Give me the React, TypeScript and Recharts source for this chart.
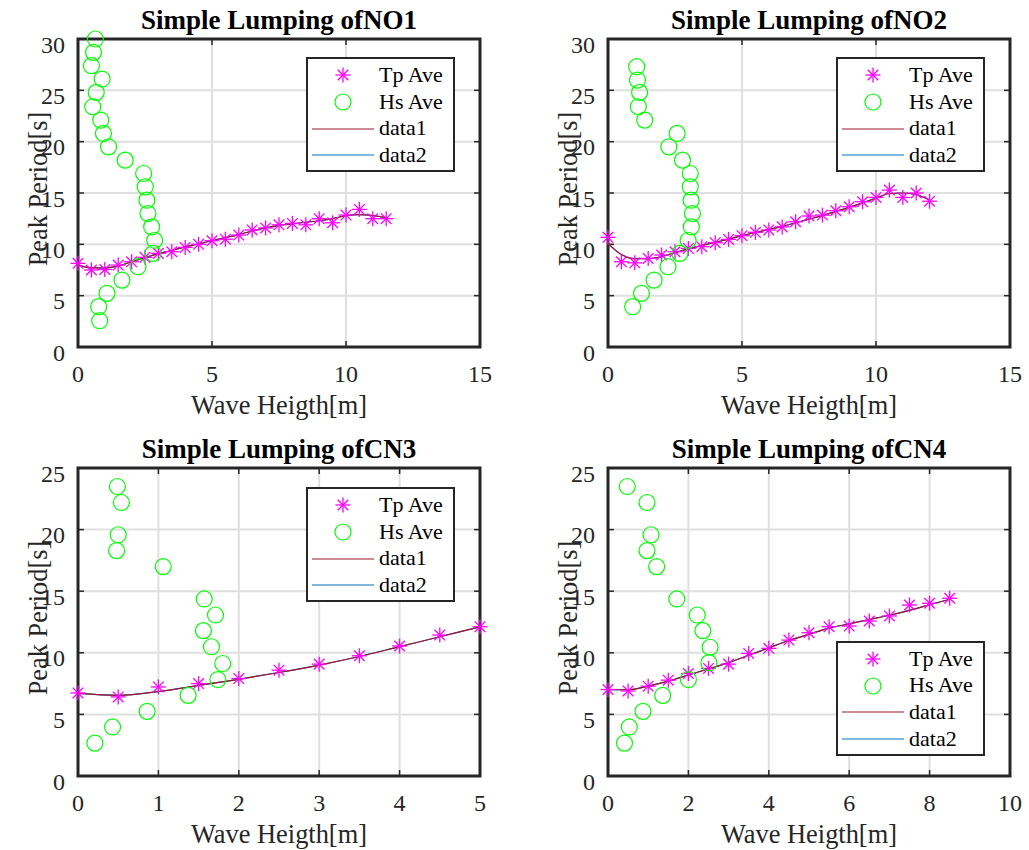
import React from 'react';
import { ComposedChart, Scatter, Line, XAxis, YAxis, CartesianGrid, Legend, ReferenceArea, ReferenceLine } from 'recharts';

// NO1
const NO1_X = [0, 0.5, 1, 1.5, 2, 2.5, 3, 3.5, 4, 4.5, 5, 5.5, 6, 6.5, 7, 7.5, 8, 8.5, 9, 9.5, 10, 10.5, 11, 11.5];
const NO1_TP = [8.15, 7.5, 7.55, 7.98, 8.3, 8.73, 9.12, 9.28, 9.7, 10.0, 10.35, 10.5, 10.9, 11.4, 11.6, 11.9, 12.04, 11.9, 12.5, 12.1, 12.85, 13.4, 12.5, 12.5];
const NO1_FIT = [8.0, 7.7, 7.7, 7.9, 8.3, 8.7, 9.1, 9.4, 9.75, 10.05, 10.35, 10.65, 10.95, 11.3, 11.6, 11.85, 12.0, 12.15, 12.3, 12.5, 12.8, 12.9, 12.8, 12.6];
const NO1_HS_X = [0.81, 0.77, 1.08, 1.64, 2.24, 2.8, 2.86, 2.75, 2.61, 2.57, 2.51, 2.45, 1.76, 1.14, 0.95, 0.85, 0.55, 0.68, 0.9, 0.5, 0.58, 0.65];
const NO1_HS_Y = [2.56, 3.93, 5.23, 6.52, 7.82, 9.12, 10.4, 11.7, 13.0, 14.3, 15.6, 16.9, 18.2, 19.5, 20.8, 22.1, 23.4, 24.8, 26.1, 27.4, 28.7, 30.0];

// NO2
const NO2_X = [0, 0.5, 1, 1.5, 2, 2.5, 3, 3.5, 4, 4.5, 5, 5.5, 6, 6.5, 7, 7.5, 8, 8.5, 9, 9.5, 10, 10.5, 11, 11.5, 12];
const NO2_TP = [10.68, 8.3, 8.2, 8.63, 8.96, 9.28, 9.6, 9.77, 10.16, 10.48, 10.84, 11.17, 11.4, 11.7, 12.2, 12.76, 12.85, 13.27, 13.66, 14.15, 14.57, 15.29, 14.57, 15.0, 14.2];
const NO2_FIT = [10.1, 9.0, 8.6, 8.6, 8.8, 9.2, 9.55, 9.9, 10.2, 10.5, 10.85, 11.15, 11.45, 11.75, 12.1, 12.45, 12.8, 13.2, 13.6, 14.05, 14.5, 14.95, 15.0, 14.85, 14.3];
const NO2_HS_X = [0.92, 1.25, 1.72, 2.24, 2.68, 2.99, 3.11, 3.15, 3.1, 3.07, 3.07, 2.78, 2.27, 2.58, 1.37, 1.13, 1.18, 1.1, 1.07];
const NO2_HS_Y = [3.93, 5.23, 6.52, 7.82, 9.12, 10.4, 11.7, 13.0, 14.3, 15.6, 16.9, 18.2, 19.5, 20.8, 22.1, 23.4, 24.8, 26.0, 27.3];

// CN3
const CN3_X = [0, 0.5, 1, 1.5, 2, 2.5, 3, 3.5, 4, 4.5, 5];
const CN3_TP = [6.74, 6.42, 7.23, 7.5, 7.91, 8.59, 9.08, 9.76, 10.55, 11.44, 12.12];
const CN3_FIT = [6.7, 6.55, 6.85, 7.35, 7.85, 8.4, 9.0, 9.7, 10.5, 11.3, 12.1];
const CN3_HS_X = [0.21, 0.43, 0.86, 1.37, 1.74, 1.8, 1.66, 1.56, 1.71, 1.57, 1.06, 0.48, 0.5, 0.54, 0.49];
const CN3_HS_Y = [2.67, 3.98, 5.25, 6.55, 7.83, 9.13, 10.49, 11.8, 13.07, 14.37, 17.0, 18.3, 19.58, 22.2, 23.5];

// CN4
const CN4_X = [0, 0.5, 1, 1.5, 2, 2.5, 3, 3.5, 4, 4.5, 5, 5.5, 6, 6.5, 7, 7.5, 8, 8.5];
const CN4_TP = [7.02, 6.9, 7.29, 7.78, 8.32, 8.73, 9.08, 9.95, 10.36, 11.03, 11.63, 12.12, 12.17, 12.58, 12.99, 13.88, 14.02, 14.43];
const CN4_FIT = [7.0, 7.0, 7.3, 7.7, 8.2, 8.7, 9.2, 9.8, 10.4, 11.0, 11.5, 12.0, 12.35, 12.7, 13.05, 13.45, 13.9, 14.35];
const CN4_HS_X = [0.41, 0.53, 0.87, 1.36, 2.0, 2.51, 2.54, 2.36, 2.22, 1.71, 1.21, 0.97, 1.07, 0.97, 0.48];
const CN4_HS_Y = [2.67, 3.98, 5.25, 6.55, 7.83, 9.2, 10.45, 11.8, 13.07, 14.37, 17.0, 18.3, 19.58, 22.2, 23.5];

const TICKS_15 = [0, 5, 10, 15];
const TICKS_5 = [0, 1, 2, 3, 4, 5];
const TICKS_10 = [0, 2, 4, 6, 8, 10];
const Y_TICKS_30 = [0, 5, 10, 15, 20, 25, 30];
const Y_TICKS_25 = [0, 5, 10, 15, 20, 25];
const LEGEND_NAMES = ['Tp Ave', 'Hs Ave', 'data1', 'data2'];

const FONT = '"Liberation Serif", "Times New Roman", serif';
const AX = '#262626';
const MAGENTA = '#FF00FF';
const GREEN = '#00FF00';
const RED = '#A2142F';
const BLUE = '#0072BD';

const PLOT_W = 402;
const PLOT_H = 308;
const TICK_PX = 6;

const toPts = (xs: number[], ys: number[]) => xs.map((x, i) => ({ x, y: ys[i] }));

function starPath(cx: number, cy: number) {
  const r = 7.5, d = 5.3;
  return (
    <g stroke={MAGENTA} strokeWidth={1.3}>
      <line x1={cx - r} y1={cy} x2={cx + r} y2={cy} />
      <line x1={cx} y1={cy - r} x2={cx} y2={cy + r} />
      <line x1={cx - d} y1={cy - d} x2={cx + d} y2={cy + d} />
      <line x1={cx - d} y1={cy + d} x2={cx + d} y2={cy - d} />
    </g>
  );
}

const Star = (p: any) => (p.cx == null ? <g /> : starPath(p.cx, p.cy));
const Ring = (p: any) =>
  p.cx == null ? <g /> : <circle cx={p.cx} cy={p.cy} r={8} fill="none" stroke={GREEN} strokeWidth={1.2} />;

const LegendBox = () => (
  <div
    className="mat-legend"
    style={{
      width: 149,
      height: 115,
      boxSizing: 'border-box',
      border: `2.5px solid ${AX}`,
      background: '#fff',
      paddingTop: 3,
      fontSize: 22,
      color: '#000',
    }}
  >
    {LEGEND_NAMES.map((name, i) => (
      <div key={name} style={{ display: 'flex', alignItems: 'center', height: 26.7, lineHeight: '26.7px' }}>
        <svg width={71} height={26} style={{ flex: 'none' }}>
          {i === 0 && starPath(35, 13)}
          {i === 1 && <circle cx={35} cy={13} r={8} fill="none" stroke={GREEN} strokeWidth={1.2} />}
          {i === 2 && <line x1={4} y1={13} x2={66} y2={13} stroke={RED} strokeWidth={1.2} />}
          {i === 3 && <line x1={4} y1={13} x2={66} y2={13} stroke={BLUE} strokeWidth={1.2} />}
        </svg>
        <span>{name}</span>
      </div>
    ))}
  </div>
);

type PanelProps = {
  left: number;
  top: number;
  title: string;
  xMax: number;
  xTicks: number[];
  yMax: number;
  yTicks: number[];
  tpX: number[];
  tpY: number[];
  fitY: number[];
  hsX: number[];
  hsY: number[];
  legendTop: number;
};

const tickFont = { fill: AX, fontSize: 24, fontFamily: FONT };

function Panel(props: PanelProps) {
  const { left, top, title, xMax, xTicks, yMax, yTicks, tpX, tpY, fitY, hsX, hsY, legendTop } = props;
  const tp = toPts(tpX, tpY);
  const fit = toPts(tpX, fitY);
  const hs = toPts(hsX, hsY);
  // inward tick length in data units
  const xLen = (xMax * TICK_PX) / PLOT_W;
  const yLen = (yMax * TICK_PX) / PLOT_H;
  const innerX = xTicks.slice(1, -1);
  const innerY = yTicks.slice(1, -1);
  const tickLine = { stroke: AX, strokeWidth: 1.5 };
  return (
    <div style={{ position: 'absolute', left, top }}>
      <ComposedChart width={498} height={420} margin={{ top: 39, right: 18, bottom: 13, left: 0 }}>
        <CartesianGrid xAxisId="b" yAxisId="l" stroke="#dfdfdf" strokeWidth={2} />
        <XAxis
          xAxisId="b"
          dataKey="x"
          type="number"
          domain={[0, xMax]}
          ticks={xTicks}
          interval={0}
          height={60}
          axisLine={false}
          tickLine={false}
          tickSize={6}
          tickMargin={11.5}
          tick={tickFont}
          label={({ viewBox }: any) => (
            <text
              x={viewBox.x + viewBox.width / 2}
              y={viewBox.y + 67}
              textAnchor="middle"
              fontFamily={FONT}
              fontSize={26.4}
              fill={AX}
            >
              Wave Heigth[m]
            </text>
          )}
        />
        <YAxis
          yAxisId="l"
          type="number"
          domain={[0, yMax]}
          ticks={yTicks}
          interval={0}
          width={78}
          axisLine={false}
          tickLine={false}
          tickSize={6}
          tickMargin={7}
          tick={{ ...tickFont, dy: 5 }}
          label={({ viewBox }: any) => {
            const cx = viewBox.x + 46.5;
            const cy = viewBox.y + viewBox.height / 2 - 4;
            return (
              <text
                x={cx}
                y={cy}
                transform={`rotate(-90, ${cx}, ${cy})`}
                textAnchor="middle"
                fontFamily={FONT}
                fontSize={26.4}
                fill={AX}
              >
                Peak Period[s]
              </text>
            );
          }}
        />
        {innerX.map((t) => (
          <ReferenceLine key={`xb${t}`} xAxisId="b" yAxisId="l" segment={[{ x: t, y: 0 }, { x: t, y: yLen }]} {...tickLine} ifOverflow="visible" />
        ))}
        {innerX.map((t) => (
          <ReferenceLine key={`xt${t}`} xAxisId="b" yAxisId="l" segment={[{ x: t, y: yMax - yLen }, { x: t, y: yMax }]} {...tickLine} ifOverflow="visible" />
        ))}
        {innerY.map((t) => (
          <ReferenceLine key={`yl${t}`} xAxisId="b" yAxisId="l" segment={[{ x: 0, y: t }, { x: xLen, y: t }]} {...tickLine} ifOverflow="visible" />
        ))}
        {innerY.map((t) => (
          <ReferenceLine key={`yr${t}`} xAxisId="b" yAxisId="l" segment={[{ x: xMax - xLen, y: t }, { x: xMax, y: t }]} {...tickLine} ifOverflow="visible" />
        ))}
        <ReferenceArea
          xAxisId="b"
          yAxisId="l"
          x1={0}
          x2={xMax}
          y1={0}
          y2={yMax}
          fill="none"
          fillOpacity={0}
          stroke={AX}
          strokeWidth={3}
          ifOverflow="visible"
          label={({ viewBox }: any) => (
            <text
              x={viewBox.x + viewBox.width / 2}
              y={viewBox.y - 10}
              textAnchor="middle"
              fontFamily={FONT}
              fontWeight="bold"
              fontSize={27}
              fill="#000"
            >
              {title}
            </text>
          )}
        />
        <Scatter xAxisId="b" yAxisId="l" name="Tp Ave" data={tp} dataKey="y" shape={Star} isAnimationActive={false} />
        <Scatter xAxisId="b" yAxisId="l" name="Hs Ave" data={hs} dataKey="y" shape={Ring} isAnimationActive={false} />
        <Line xAxisId="b" yAxisId="l" name="data2" data={fit} dataKey="y" type="monotone" stroke={BLUE} strokeWidth={1.2} dot={false} isAnimationActive={false} />
        <Line xAxisId="b" yAxisId="l" name="data1" data={fit} dataKey="y" type="monotone" stroke={RED} strokeWidth={1.2} dot={false} isAnimationActive={false} />
        <Legend
          layout="horizontal"
          verticalAlign="middle"
          align="center"
          content={<LegendBox />}
          wrapperStyle={{ left: 306, top: legendTop, width: 149, height: 115 }}
        />
      </ComposedChart>
    </div>
  );
}

export default function App() {
  return (
    <div className="mat-fig" style={{ position: 'absolute', left: 0, top: 0, width: 1029, height: 850, overflow: 'hidden', background: '#fff' }}>
      <style>{`.mat-fig, .mat-fig text, .mat-fig tspan, .mat-legend, .mat-legend span { font-family: "Liberation Serif", "Times New Roman", serif !important; }`}</style>
      <Panel left={0} top={0} title="Simple Lumping ofNO1" xMax={15} xTicks={TICKS_15} yMax={30} yTicks={Y_TICKS_30}
        tpX={NO1_X} tpY={NO1_TP} fitY={NO1_FIT} hsX={NO1_HS_X} hsY={NO1_HS_Y} legendTop={57} />
      <Panel left={530} top={0} title="Simple Lumping ofNO2" xMax={15} xTicks={TICKS_15} yMax={30} yTicks={Y_TICKS_30}
        tpX={NO2_X} tpY={NO2_TP} fitY={NO2_FIT} hsX={NO2_HS_X} hsY={NO2_HS_Y} legendTop={57} />
      <Panel left={0} top={429} title="Simple Lumping ofCN3" xMax={5} xTicks={TICKS_5} yMax={25} yTicks={Y_TICKS_25}
        tpX={CN3_X} tpY={CN3_TP} fitY={CN3_FIT} hsX={CN3_HS_X} hsY={CN3_HS_Y} legendTop={58} />
      <Panel left={530} top={429} title="Simple Lumping ofCN4" xMax={10} xTicks={TICKS_10} yMax={25} yTicks={Y_TICKS_25}
        tpX={CN4_X} tpY={CN4_TP} fitY={CN4_FIT} hsX={CN4_HS_X} hsY={CN4_HS_Y} legendTop={211.5} />
    </div>
  );
}
